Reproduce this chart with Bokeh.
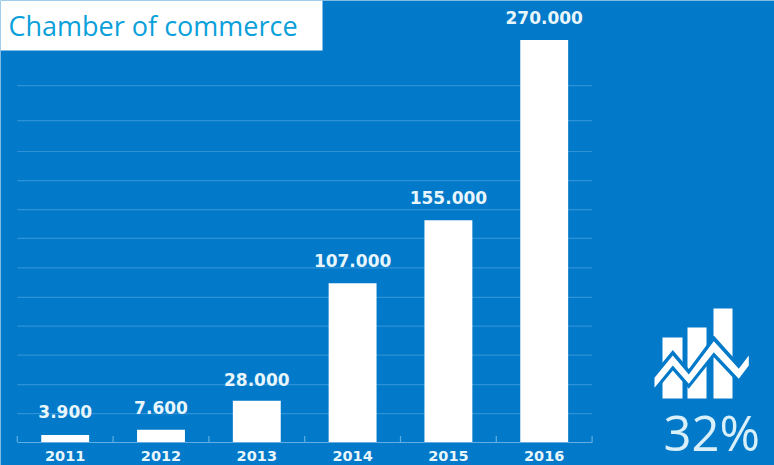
from bokeh.plotting import figure
from bokeh.embed import file_html
from bokeh.resources import INLINE
from bokeh.models import Range1d, LinearAxis, FixedTicker, Label, ColumnDataSource
from bokeh.core.properties import value

years = [2011, 2012, 2013, 2014, 2015, 2016]
bar_heights = [4700, 8300, 27700, 106600, 148900, 270000]
value_labels = ["3.900", "7.600", "28.000", "107.000", "155.000", "270.000"]
label_heights = [20800, 22900, 41700, 122000, 164500, 284800]
grid_values = [19100, 38600, 58400, 77800, 97200, 117000, 136700, 156100, 175600, 195100, 215900, 239400]
tick_years = [2010.5, 2011.5, 2012.5, 2013.5, 2014.5, 2015.5, 2016.5]

BG = "#027AC9"
W, H = 774, 465
PX_PER_YEAR = 95.8
PX_PER_UNIT = 402 / 270000
BASE = 441.5

p = figure(width=W, height=H, output_backend="svg", toolbar_location=None,
           x_range=Range1d(2011 - 64.7 / PX_PER_YEAR, 2011 + (W - 64.7) / PX_PER_YEAR),
           y_range=Range1d(-(H - BASE) / PX_PER_UNIT, BASE / PX_PER_UNIT),
           x_axis_type=None, y_axis_type=None,
           background_fill_color=BG, border_fill_color=BG,
           min_border=0, outline_line_color=None)
p.grid.visible = False
p.extra_x_ranges["px"] = Range1d(0, W)
p.extra_y_ranges["px"] = Range1d(H, 0)

# gridlines
p.segment(x0=[2010.5] * len(grid_values), x1=[2016.5] * len(grid_values), y0=grid_values, y1=grid_values,
          line_color="#2F92D6", line_width=1.2)

# bars
p.vbar(x=years, top=bar_heights, bottom=0, width=0.5, fill_color="white", line_color=None)

# tick marks between categories
p.segment(x0=tick_years, x1=tick_years, y0=[0] * 7, y1=[4000] * 7, line_color="#5FAEE3", line_width=1.2)

# value labels
src = ColumnDataSource(dict(x=years, y=label_heights, t=value_labels))
p.text(x="x", y="y", text="t", source=src, text_color="#E8F6FC",
       text_font=value("DejaVu Sans"), text_font_style="bold", text_font_size="17px",
       text_align="center", text_baseline="middle")

# x axis
ax = LinearAxis(ticker=FixedTicker(ticks=years), fixed_location=0,
                major_label_overrides={y: str(y) for y in years},
                major_tick_line_color=None, minor_tick_line_color=None,
                axis_line_color="#5FAEE3", axis_line_width=1.2,
                major_label_text_color="#E8F6FC", major_label_text_font="DejaVu Sans",
                major_label_text_font_style="bold", major_label_text_font_size="14.5px",
                major_label_standoff=3, bounds=(2010.5, 2016.5))
p.add_layout(ax, "below")

# title box
p.quad(left=[0], right=[322], top=[0], bottom=[50], fill_color="white", line_color=None,
       x_range_name="px", y_range_name="px")
p.add_layout(Label(x=8, y=25, x_range_name="px", y_range_name="px", text="Chamber of commerce",
                   text_color="#0AA0D9", text_font="Open Sans", text_font_size="27px",
                   text_baseline="middle"))

# icon
for l, r, t in [(662, 682, 337), (687, 706, 327), (713, 732, 308)]:
    p.quad(left=[l], right=[r], top=[t], bottom=[398], fill_color="white", line_color=None,
           x_range_name="px", y_range_name="px")
zx = [654, 672.3, 688.3, 713.3, 738.3, 748.3]
up = [377.3, 355, 374, 340.7, 368.3, 355]
lo = [387.3, 365, 383.3, 351.7, 378.3, 365]
blue_up = [371.7, 349.5, 368.5, 335, 363, 349.7]
blue_lo = [392.3, 370, 388.3, 356.7, 383.3, 370]
p.patch(x=zx + zx[::-1], y=blue_up + blue_lo[::-1], fill_color=BG, line_color=None,
        x_range_name="px", y_range_name="px")
p.patch(x=zx + zx[::-1], y=up + lo[::-1], fill_color="white", line_color=None,
        x_range_name="px", y_range_name="px")

p.add_layout(Label(x=663, y=431, x_range_name="px", y_range_name="px", text="32%",
                   text_color="#D9F0FA", text_font="Open Sans", text_font_size="49px",
                   text_baseline="middle"))

open("out.html", "w").write(file_html(p, INLINE))
